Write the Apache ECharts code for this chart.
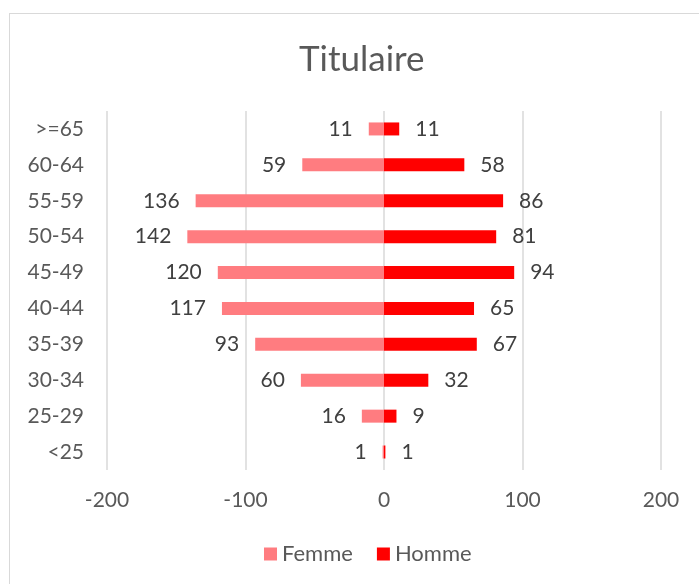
<!DOCTYPE html>
<html><head><meta charset="utf-8">
<script src="https://cdn.jsdelivr.net/npm/echarts@6/dist/echarts.min.js"></script>
<style>
html,body{margin:0;padding:0;background:#fff;}
#frame{position:absolute;left:9px;top:13px;width:720px;height:600px;border:1px solid #d9d9d9;box-sizing:border-box;}
#c{position:absolute;left:0;top:0;width:699px;height:584px;}
</style></head>
<body>
<div id="frame"></div>
<div id="c"></div>
<script>
const categories = ['<25','25-29','30-34','35-39','40-44','45-49','50-54','55-59','60-64','>=65'];
const femme = [1,16,60,93,117,120,142,136,59,11];
const homme = [1,9,32,67,65,94,81,86,58,11];
const xTicks = [-200,-100,0,100,200];

const chart = echarts.init(document.getElementById('c'), null, {renderer:'canvas'});
const font = 'Lato, "Liberation Sans", sans-serif';
chart.setOption({
  animation:false,
  title:{text:'Titulaire', left:294, top:37, textStyle:{fontFamily:font, fontSize:35, fontWeight:'normal', color:'#595959'}},
  legend:{bottom:14, left:259, itemWidth:13, itemHeight:13, itemGap:24, icon:'rect',
    textStyle:{fontFamily:font, fontSize:22, color:'#595959'}, data:['Femme','Homme']},
  grid:{left:107, right:38, top:111, bottom:114, containLabel:false},
  xAxis:{type:'value', min:xTicks[0], max:xTicks[xTicks.length-1], interval:100,
    axisLine:{show:false}, axisTick:{show:false},
    splitLine:{show:true, lineStyle:{color:'#d9d9d9', width:1.5}},
    axisLabel:{margin:20, fontFamily:font, fontSize:21, color:'#595959'}},
  yAxis:{type:'category', data:categories, axisLine:{show:false}, axisTick:{show:false},
    axisLabel:{margin:23, fontFamily:font, fontSize:21, color:'#595959'}},
  series:[
    {name:'Femme', type:'bar', stack:'t', barWidth:13, data:femme.map(v=>-v),
      itemStyle:{color:'#FF7C80'},
      label:{show:true, position:'left', distance:16, fontFamily:font, fontSize:21, color:'#404040',
        formatter:p=>Math.abs(p.value)}},
    {name:'Homme', type:'bar', stack:'t', barWidth:13, data:homme,
      itemStyle:{color:'#FF0000'},
      label:{show:true, position:'right', distance:16, fontFamily:font, fontSize:21, color:'#404040'}}
  ]
});
</script>
</body></html>
